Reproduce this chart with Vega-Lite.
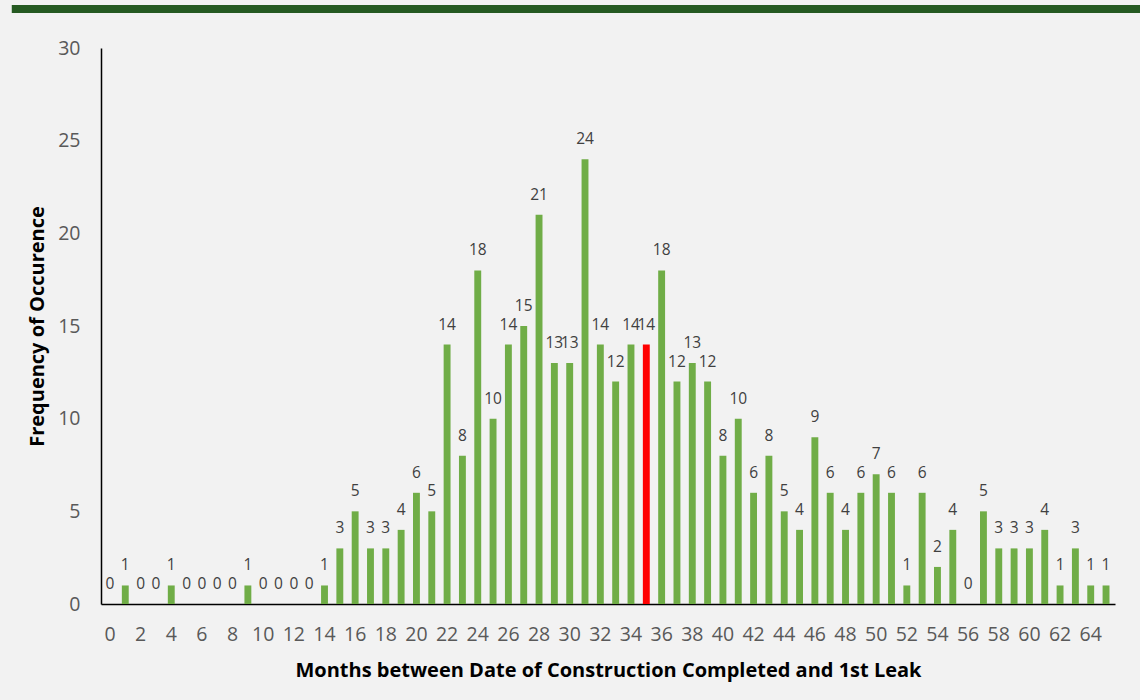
{
  "$schema": "https://vega.github.io/schema/vega-lite/v6.json",
  "autosize": {"type": "none"},
  "width": 1014,
  "height": 556,
  "padding": {"left": 101, "top": 48, "right": 25, "bottom": 96},
  "background": "#f2f2f2",
  "config": {"view": {"stroke": null}, "font": "Open Sans"},
  "datasets": {
    "bars": [
      {"month": 0, "count": 0}, {"month": 1, "count": 1}, {"month": 2, "count": 0}, {"month": 3, "count": 0},
      {"month": 4, "count": 1}, {"month": 5, "count": 0}, {"month": 6, "count": 0}, {"month": 7, "count": 0},
      {"month": 8, "count": 0}, {"month": 9, "count": 1}, {"month": 10, "count": 0}, {"month": 11, "count": 0},
      {"month": 12, "count": 0}, {"month": 13, "count": 0}, {"month": 14, "count": 1}, {"month": 15, "count": 3},
      {"month": 16, "count": 5}, {"month": 17, "count": 3}, {"month": 18, "count": 3}, {"month": 19, "count": 4},
      {"month": 20, "count": 6}, {"month": 21, "count": 5}, {"month": 22, "count": 14}, {"month": 23, "count": 8},
      {"month": 24, "count": 18}, {"month": 25, "count": 10}, {"month": 26, "count": 14}, {"month": 27, "count": 15},
      {"month": 28, "count": 21}, {"month": 29, "count": 13}, {"month": 30, "count": 13}, {"month": 31, "count": 24},
      {"month": 32, "count": 14}, {"month": 33, "count": 12}, {"month": 34, "count": 14}, {"month": 35, "count": 14, "highlight": "yes"},
      {"month": 36, "count": 18}, {"month": 37, "count": 12}, {"month": 38, "count": 13}, {"month": 39, "count": 12},
      {"month": 40, "count": 8}, {"month": 41, "count": 10}, {"month": 42, "count": 6}, {"month": 43, "count": 8},
      {"month": 44, "count": 5}, {"month": 45, "count": 4}, {"month": 46, "count": 9}, {"month": 47, "count": 6},
      {"month": 48, "count": 4}, {"month": 49, "count": 6}, {"month": 50, "count": 7}, {"month": 51, "count": 6},
      {"month": 52, "count": 1}, {"month": 53, "count": 6}, {"month": 54, "count": 2}, {"month": 55, "count": 4},
      {"month": 56, "count": 0}, {"month": 57, "count": 5}, {"month": 58, "count": 3}, {"month": 59, "count": 3},
      {"month": 60, "count": 3}, {"month": 61, "count": 4}, {"month": 62, "count": 1}, {"month": 63, "count": 3},
      {"month": 64, "count": 1}, {"month": 65, "count": 1}
    ],
    "banner": [{"x0": -0.088, "x1": 1.03, "y0": 31.89, "y1": 32.32}]
  },
  "layer": [
    {
      "data": {"name": "bars"},
      "layer": [
        {
          "mark": {"type": "bar"},
          "encoding": {
            "x": {
              "field": "month", "type": "ordinal", "sort": null,
              "scale": {"paddingInner": 0.55, "paddingOuter": 0.36},
              "axis": {
                "title": "Months between Date of Construction Completed and 1st Leak",
                "values": [0,2,4,6,8,10,12,14,16,18,20,22,24,26,28,30,32,34,36,38,40,42,44,46,48,50,52,54,56,58,60,62,64],
                "labelAngle": 0, "labelFontSize": 19.5, "labelColor": "#595959", "labelPadding": 21,
                "ticks": false, "domainColor": "#000000", "domainWidth": 1.5,
                "titleFontSize": 20, "titleFontWeight": "bold", "titleColor": "#000000", "titlePadding": 17
              }
            },
            "y": {
              "field": "count", "type": "quantitative",
              "scale": {"domain": [0, 30]},
              "axis": {
                "title": "Frequency of Occurence", "values": [0,5,10,15,20,25,30],
                "grid": false, "ticks": false, "labelFontSize": 19.5, "labelColor": "#595959", "labelPadding": 21,
                "domainColor": "#000000", "domainWidth": 1.5,
                "titleFontSize": 20, "titleFontWeight": "bold", "titleColor": "#000000", "titlePadding": 10
              }
            },
            "color": {
              "condition": {"test": "datum.highlight === 'yes'", "value": "#ff0000"},
              "value": "#70ad47"
            }
          }
        },
        {
          "mark": {"type": "text", "baseline": "alphabetic", "dy": -15, "fontSize": 15.5, "color": "#404040"},
          "encoding": {
            "x": {"field": "month", "type": "ordinal", "sort": null},
            "y": {"field": "count", "type": "quantitative"},
            "text": {"field": "count", "type": "quantitative"}
          }
        }
      ]
    },
    {
      "data": {"name": "banner"},
      "mark": {"type": "rect", "color": "#265a22"},
      "encoding": {
        "x": {"field": "x0", "type": "quantitative", "scale": {"domain": [0, 1]}, "axis": null},
        "x2": {"field": "x1"},
        "y": {"field": "y0", "type": "quantitative"},
        "y2": {"field": "y1"}
      }
    }
  ],
  "resolve": {"scale": {"x": "independent"}}
}
